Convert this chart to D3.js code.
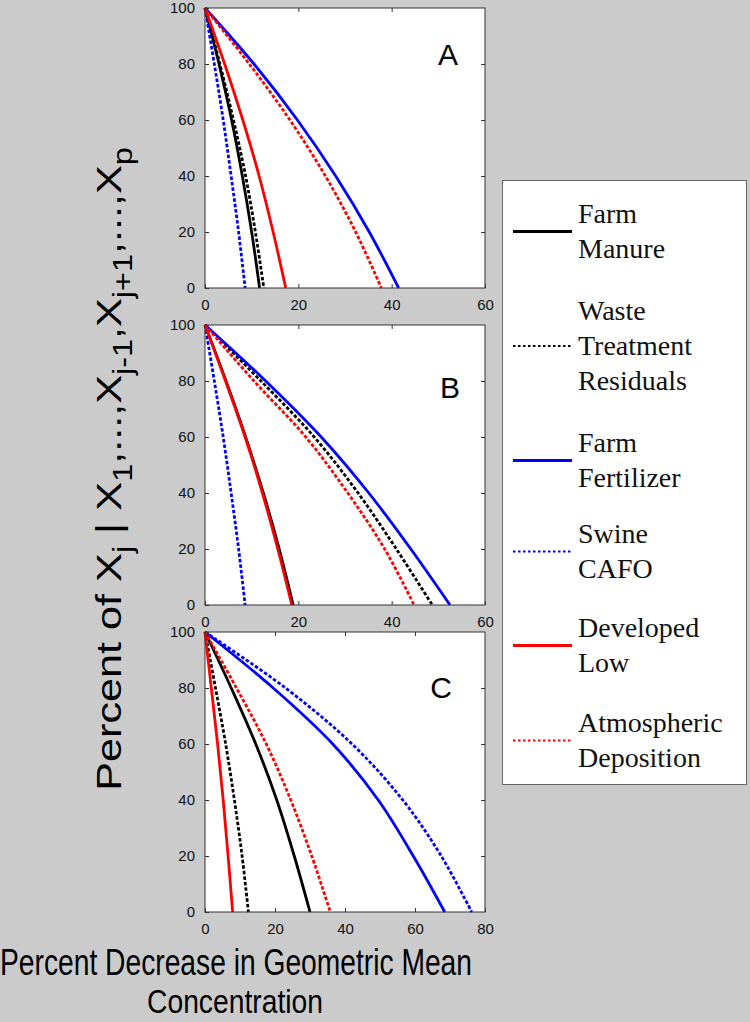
<!DOCTYPE html>
<html>
<head>
<meta charset="utf-8">
<script src="https://cdn.jsdelivr.net/npm/d3@7"></script>
<style>
  html, body { margin: 0; padding: 0; background: #cbcbcb; }
  svg { display: block; }
</style>
</head>
<body>
<div id="chart"></div>
<script>
// niveis de y onde as curvas foram lidas
const yLevels = [100, 80, 60, 40, 20, 0];

const seriesNames = ["Farm Manure", "Waste Treatment Residuals", "Farm Fertilizer", "Swine CAFO", "Developed Low", "Atmospheric Deposition"];
const legendLines = [["Farm", "Manure"], ["Waste", "Treatment", "Residuals"], ["Farm", "Fertilizer"], ["Swine", "CAFO"], ["Developed", "Low"], ["Atmospheric", "Deposition"]];
const seriesColors = ["#000000", "#000000", "#0000ff", "#0000ff", "#ff0000", "#ff0000"];
const seriesDashed = [false, true, false, true, false, true];

const panelLabels = ["A", "B", "C"];
const panelXMax = [60, 60, 80];
const xTicksAB = [0, 20, 40, 60];
const xTicksC = [0, 20, 40, 60, 80];
const yTicks = [0, 20, 40, 60, 80, 100];

// percent decrease (x) at each y level, one array per series
const panelA = [
  [0, 3.0, 5.7, 8.0, 10.0, 11.7],
  [0, 3.2, 6.1, 8.7, 10.8, 12.6],
  [0, 10.5, 19.8, 28.0, 35.2, 41.5],
  [0, 2.0, 3.9, 5.6, 7.2, 8.6],
  [0, 4.2, 8.1, 11.6, 14.6, 17.3],
  [0, 9.5, 18.2, 25.8, 32.3, 37.8]
];
const panelB = [
  [0, 4.5, 8.7, 12.5, 15.9, 18.9],
  [0, 12.0, 23.4, 32.8, 41.0, 48.7],
  [0, 13.0, 24.9, 35.1, 44.1, 52.5],
  [0, 2.0, 3.9, 5.6, 7.2, 8.6],
  [0, 4.4, 8.6, 12.3, 15.6, 18.6],
  [0, 10.5, 21.6, 30.6, 38.5, 44.8]
];
const panelC = [
  [0, 7.5, 14.5, 20.5, 25.5, 30.0],
  [0, 3.0, 5.9, 8.4, 10.6, 12.4],
  [0, 19.5, 36.5, 49.5, 59.5, 68.5],
  [0, 23.0, 42.0, 56.5, 67.5, 76.2],
  [0, 1.8, 3.6, 5.2, 6.6, 7.9],
  [0, 9.0, 17.5, 24.5, 30.5, 35.8]
];
const panelData = [panelA, panelB, panelC];

const W = 750, H = 1022;
const svg = d3.select("#chart").append("svg")
  .attr("width", W).attr("height", H);

svg.append("rect").attr("width", W).attr("height", H).attr("fill", "#cbcbcb");

// posicao dos paineis
const panelLeft = 205, panelWidth = 280, panelHeight = 280;
const panelTops = [8, 325, 632];
const labelPos = [[448, 65], [450, 398], [441, 698]];

panelData.forEach((series, p) => {
  const g = svg.append("g").attr("transform", `translate(${panelLeft},${panelTops[p]})`);

  const x = d3.scaleLinear().domain([0, panelXMax[p]]).range([0, panelWidth]);
  const y = d3.scaleLinear().domain([0, 100]).range([panelHeight, 0]);
  const xt = p === 2 ? xTicksC : xTicksAB;

  g.append("rect")
    .attr("width", panelWidth).attr("height", panelHeight)
    .attr("fill", "#ffffff");

  const line = d3.line()
    .x(d => x(d[0]))
    .y(d => y(d[1]))
    .curve(d3.curveCatmullRom.alpha(0.5));

  // desenhar as curvas
  series.forEach((vals, i) => {
    const pts = vals.map((v, k) => [v, yLevels[k]]);
    g.append("path")
      .datum(pts)
      .attr("d", line)
      .attr("fill", "none")
      .attr("stroke", seriesColors[i])
      .attr("stroke-width", 2.8)
      .attr("stroke-dasharray", seriesDashed[i] ? "3.5,2" : null);
  });

  // eixos com ticks para dentro
  const styleAxis = sel => {
    sel.select(".domain").remove();
    sel.selectAll("line").attr("stroke", "#333");
    sel.selectAll("text")
      .attr("fill", "#111")
      .style("font-family", "Arial, 'Liberation Sans', sans-serif")
      .style("font-size", "15px");
  };

  g.append("g")
    .call(d3.axisLeft(y).tickValues(yTicks).tickSize(-4).tickPadding(10))
    .call(styleAxis);
  g.append("g")
    .attr("transform", `translate(${panelWidth},0)`)
    .call(d3.axisRight(y).tickValues(yTicks.slice(1, -1)).tickSize(-4).tickFormat(""))
    .call(styleAxis);
  g.append("g")
    .attr("transform", `translate(0,${panelHeight})`)
    .call(d3.axisBottom(x).tickValues(xt).tickSize(-4).tickPadding(11))
    .call(styleAxis);
  g.append("g")
    .call(d3.axisTop(x).tickValues(xt.slice(1, -1)).tickSize(-4).tickFormat(""))
    .call(styleAxis);

  g.append("rect")
    .attr("width", panelWidth).attr("height", panelHeight)
    .attr("fill", "none").attr("stroke", "#333").attr("stroke-width", 1);

  svg.append("text")
    .attr("x", labelPos[p][0]).attr("y", labelPos[p][1])
    .attr("text-anchor", "middle")
    .style("font-family", "Arial, 'Liberation Sans', sans-serif")
    .style("font-size", "30px")
    .text(panelLabels[p]);
});

// legenda
const legend = svg.append("g");
legend.append("rect")
  .attr("x", 502.5).attr("y", 180.5).attr("width", 244).attr("height", 604)
  .attr("fill", "#ffffff").attr("stroke", "#666").attr("stroke-width", 1);

const entryBase = [223, 320, 452, 543, 637, 732];
legendLines.forEach((lines, i) => {
  const b0 = entryBase[i];
  const lineY = b0 + (lines.length - 1) * 35 / 2 - 9;
  legend.append("line")
    .attr("x1", 513).attr("x2", 572)
    .attr("y1", lineY).attr("y2", lineY)
    .attr("stroke", seriesColors[i])
    .attr("stroke-width", seriesDashed[i] ? 2.2 : 3)
    .attr("stroke-dasharray", seriesDashed[i] ? "2.5,2.5" : null);
  const t = legend.append("text")
    .style("font-family", "'Liberation Serif', 'Times New Roman', serif")
    .style("font-size", "28px")
    .attr("fill", "#111");
  lines.forEach((s, k) => {
    t.append("tspan").attr("x", 578).attr("y", b0 + k * 35).text(s);
  });
});

// titulo do eixo x
const xTitle = svg.append("g")
  .style("font-family", "Arial, 'Liberation Sans', sans-serif")
  .style("font-size", "36px");
xTitle.append("text")
  .attr("x", 236).attr("y", 975)
  .attr("text-anchor", "middle")
  .attr("textLength", 472).attr("lengthAdjust", "spacingAndGlyphs")
  .text("Percent Decrease in Geometric Mean");
xTitle.append("text")
  .attr("x", 235).attr("y", 1013)
  .attr("text-anchor", "middle")
  .style("font-size", "34px")
  .attr("textLength", 176).attr("lengthAdjust", "spacingAndGlyphs")
  .text("Concentration");

// titulo do eixo y com subscritos
const yParts = [
  ["Percent of X", false], ["j", true], [" | X", false], ["1", true],
  [",...,X", false], ["j-1", true], [",X", false], ["j+1", true],
  [",...,X", false], ["p", true]
];
const yTitle = svg.append("text")
  .attr("transform", "translate(121,469) rotate(-90) scale(1.2,1)")
  .attr("text-anchor", "middle")
  .style("font-family", "Arial, 'Liberation Sans', sans-serif")
  .style("font-size", "36px");
let shifted = false;
yParts.forEach(([s, sub]) => {
  const ts = yTitle.append("tspan").text(s);
  if (sub) {
    ts.style("font-size", "27px").attr("dy", shifted ? 0 : 11);
    shifted = true;
  } else {
    ts.attr("dy", shifted ? -11 : 0);
    shifted = false;
  }
});
</script>
</body>
</html>
